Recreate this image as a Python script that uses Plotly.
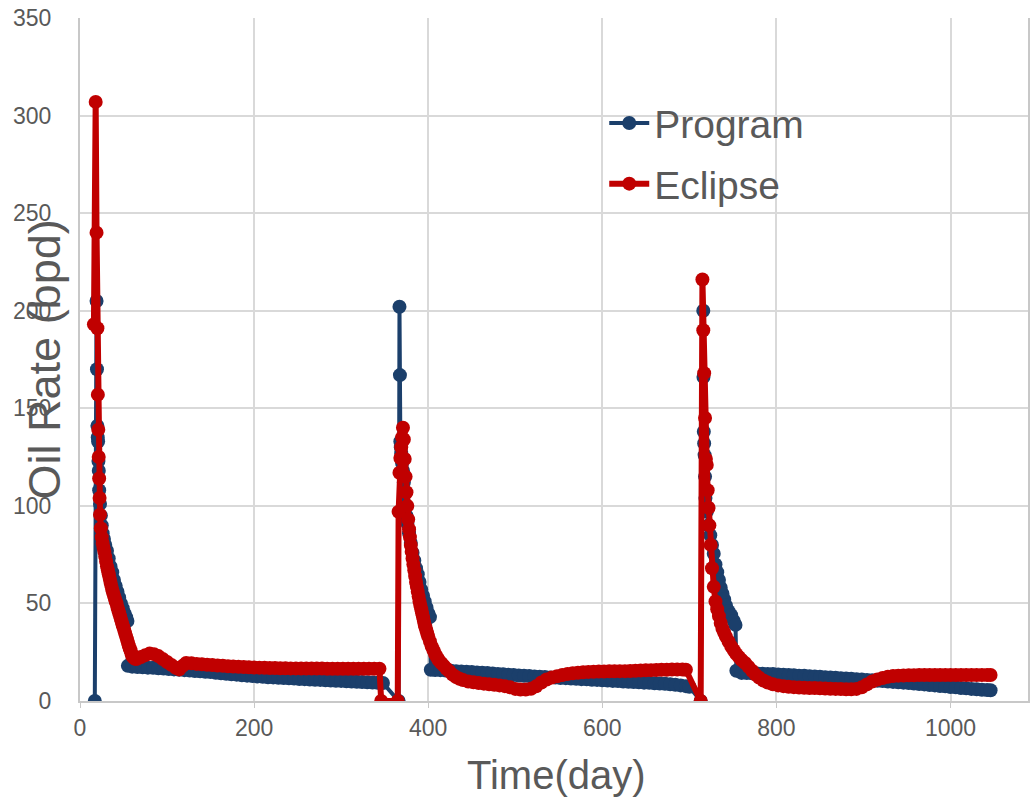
import plotly.graph_objects as go

# ---------------- data ----------------
program_day = [
    17, 19, 19.5, 20, 20.4, 20.8, 21.2, 21.6, 22, 23, 24, 25, 26, 27.5, 29, 31, 33, 35, 37, 39,
    41, 43, 45, 47, 49, 51, 53, 54.5, 55,
    60, 66, 72, 78, 84, 90, 96, 102, 108, 114, 120, 126, 132, 138, 144, 150, 156, 162, 168, 174,
    180, 186, 192, 198, 204, 210, 216, 222, 228, 234, 240, 246, 252, 258, 264, 270, 276, 282, 288,
    294, 300, 306, 312, 318, 324, 330, 336, 342, 348,
    366, 367, 367.5, 368, 368.5, 369, 370, 371, 372, 373, 374, 375, 376, 378, 380, 382, 384, 386,
    388, 390, 392, 394, 396, 398, 400, 402, 403,
    408, 414, 420, 426, 432, 438, 444, 450, 456, 462, 468, 474, 480, 486, 492, 498, 504, 510, 516,
    522, 528, 534, 540, 546, 552, 558, 564, 570, 576, 582, 588, 594, 600, 606, 612, 618, 624, 630,
    636, 642, 648, 654, 660, 666, 672, 678, 684, 690, 696, 700,
    713, 716, 716.2, 716.6, 717, 717.5, 718, 718.5, 720, 722, 724, 726, 728, 730, 732, 734, 736,
    738, 740, 742, 745, 748, 751, 753, 754,
    760, 766, 772, 778, 784, 790, 796, 802, 808, 814, 820, 826, 832, 838, 844, 850, 856, 862, 868,
    874, 880, 886, 892, 898, 904, 910, 916, 922, 928, 934, 940, 946, 952, 958, 964, 970, 976, 982,
    988, 994, 1000, 1006, 1012, 1018, 1024, 1030, 1036, 1042, 1046,
]
program_rate = [
    0, 205, 170, 141, 135, 133, 123, 118, 108, 101, 95, 90, 86, 83, 80, 77, 73, 69, 66, 62,
    59, 56, 53, 50, 47.5, 45, 43, 41, 18,
    17.6, 17.4, 17.3, 17.1, 17.0, 16.8, 16.6, 16.4, 16.2, 16.0, 15.8, 15.6, 15.4, 15.2, 15.0, 14.8,
    14.5, 14.2, 14.0, 13.7, 13.5, 13.2, 13.0, 12.8, 12.6, 12.4, 12.2, 12.1, 11.9, 11.8, 11.6, 11.5,
    11.3, 11.2, 11.0, 10.9, 10.8, 10.6, 10.5, 10.4, 10.3, 10.1, 10.0, 9.9, 9.7, 9.6, 9.5, 9.3, 9.2,
    0, 202, 167, 133, 130, 127, 122, 118, 112, 106, 100, 95, 91, 86, 81, 76, 72, 68,
    65, 61, 57, 54, 51, 48, 45, 43, 16,
    15.9, 15.8, 15.6, 15.5, 15.3, 15.1, 15.0, 14.8, 14.6, 14.5, 14.3, 14.1, 13.9, 13.7, 13.5, 13.3,
    13.1, 12.9, 12.8, 12.6, 12.4, 12.3, 12.1, 12.0, 11.8, 11.7, 11.5, 11.4, 11.2, 11.1, 10.9, 10.8,
    10.6, 10.5, 10.3, 10.2, 10.0, 9.9, 9.7, 9.6, 9.4, 9.3, 9.1, 9.0, 8.8, 8.6, 8.3, 8.0, 7.6, 7.3,
    0, 200, 166, 138, 132, 126, 115, 104, 97, 90, 85, 80, 75.5, 70, 66, 62, 58,
    55, 52, 49, 46, 44, 41, 39, 15.5,
    14.4, 14.3, 14.2, 14.1, 14.0, 13.9, 13.8, 13.6, 13.5, 13.3, 13.2, 13.0, 12.9, 12.7, 12.5, 12.4,
    12.2, 12.0, 11.9, 11.7, 11.5, 11.4, 11.2, 11.0, 10.8, 10.6, 10.4, 10.2, 10.0, 9.8, 9.6, 9.4,
    9.2, 9.0, 8.7, 8.5, 8.2, 8.0, 7.7, 7.5, 7.2, 7.0, 6.7, 6.5, 6.2, 6.0, 5.8, 5.6, 5.5,
]

eclipse_day = [
    16, 18, 19, 20, 20.5, 21, 21.5, 22, 22.5, 23, 24, 25, 26, 27, 28, 29, 30, 31, 32, 33, 34, 35,
    36, 37, 38, 39, 40, 41, 42, 43, 44, 45, 46, 47, 48, 49, 50, 51, 52, 53, 54, 55, 56, 57, 58, 59,
    60, 62, 64, 66, 70, 75, 80, 85, 90, 95, 100, 105, 110, 114, 118, 122, 128, 134, 140, 146, 152,
    158, 164, 170, 176, 182, 188, 194, 200, 206, 212, 218, 224, 230, 236, 242, 248, 254, 260, 266,
    272, 278, 284, 290, 296, 302, 308, 314, 320, 326, 332, 338, 344,
    346, 365,
    366, 367, 368, 369, 370, 371, 372, 373, 374, 375, 376, 377, 378, 379, 380, 381, 382, 383, 384,
    385, 386, 387, 388, 389, 390, 391, 392, 393, 394, 395, 396, 397, 398, 399, 400, 402, 404, 406,
    408, 410, 412, 415, 418, 421, 424, 428, 432, 436, 440, 446, 452, 458, 464, 470, 476, 482, 488,
    494, 500, 506, 512, 518, 524, 530, 536, 542, 548, 554, 560, 566, 572, 578, 584, 590, 596, 602,
    608, 614, 620, 626, 632, 638, 644, 650, 656, 662, 668, 674, 680, 686, 692, 696,
    713,
    715, 716, 717, 718, 719, 720, 721, 722, 723, 724.5, 726, 728, 730, 732, 734, 736, 738, 740, 742,
    745, 748, 751, 754, 757, 760, 764, 768, 772, 776, 780, 785, 790, 796, 802, 808, 814, 820, 826,
    832, 838, 844, 850, 856, 862, 868, 874, 880, 886, 892, 898, 904, 910, 916, 922, 928, 934, 940,
    946, 952, 958, 964, 970, 976, 982, 988, 994, 1000, 1006, 1012, 1018, 1024, 1030, 1036, 1042,
    1046,
]
eclipse_rate = [
    193, 307, 240, 191, 157, 139, 125, 114, 104, 95.5, 88.5, 84, 81, 78.5, 76.5, 74, 71.5, 69, 67,
    65, 63, 61, 59, 57, 55.5, 54, 52.5, 51, 50, 48, 46.5, 45, 43.5, 42, 40.5, 39, 37.5, 36, 34.5,
    33, 31.5, 30, 28.5, 27, 26, 24.5,
    23, 22, 21.5, 21.8, 22.5, 23.5, 24.3, 24, 23, 21.5, 20, 18.5, 17, 16.2, 18, 19.5, 19.3, 19.0,
    18.8, 18.6, 18.4, 18.2, 18.0, 17.8, 17.7, 17.5, 17.4, 17.3, 17.2, 17.1, 17.0, 16.9, 16.9, 16.8,
    16.8, 16.7, 16.7, 16.6, 16.6, 16.6, 16.6, 16.6, 16.5, 16.5, 16.5, 16.5, 16.5, 16.5, 16.5, 16.5,
    16.5, 16.5, 16.5,
    0, 0,
    97, 117, 124.5, 130, 135, 140, 134, 124, 115, 107, 100, 93, 88, 84, 80, 76.5, 73, 70, 67,
    64, 61, 58.5, 56, 53.5, 51, 49, 47, 45, 43, 41, 39, 37.5, 36, 34.5, 33, 30.5, 28, 26,
    24, 22.5, 21, 19.5, 18, 16.5, 15.3, 13.5, 12.3, 11.4, 10.7, 10.0, 9.6, 9.2, 8.9, 8.6, 8.3, 8.0,
    7.6, 7.0, 6.2, 5.9, 5.9, 6.3, 7.5, 9.5, 11.0, 12.0, 12.7, 13.3, 13.8, 14.2, 14.5, 14.7, 14.9,
    15.0, 15.1, 15.1, 15.2, 15.2, 15.3, 15.3, 15.4, 15.5, 15.6, 15.7, 15.8, 15.9, 16.0, 16.0, 16.1,
    16.1, 16.1, 16.0,
    0,
    216, 190, 168, 145, 124, 121, 108, 99, 90, 80, 68, 58.5, 51, 47, 43.5, 40, 37, 35, 33,
    30.5, 28, 26, 24, 22.5, 21, 19.5, 17.5, 15.5, 13.5, 12, 10.5, 9.5, 8.6, 8.0, 7.6, 7.3, 7.1,
    6.9, 6.8, 6.7, 6.6, 6.5, 6.4, 6.3, 6.2, 6.1, 6.0, 6.0, 6.2, 7.0, 8.5, 10.0, 11.0, 11.8, 12.4,
    12.8, 13.0, 13.1, 13.2, 13.2, 13.3, 13.3, 13.3, 13.3, 13.3, 13.3, 13.3, 13.3, 13.3, 13.3, 13.3,
    13.3, 13.3, 13.3, 13.3,
]

x_ticks = [0, 200, 400, 600, 800, 1000]
y_ticks = [0, 50, 100, 150, 200, 250, 300, 350]

# ---------------- figure ----------------
BLUE = "#1B3F6B"
RED = "#C00000"
GREY_TXT = "#595959"
FONT = "Liberation Sans, Arial, sans-serif"

fig = go.Figure()
fig.add_trace(go.Scatter(
    x=program_day, y=program_rate, name="Program", mode="lines+markers",
    line=dict(color=BLUE, width=4), marker=dict(color=BLUE, size=14),
    legendgroup="p",
))
fig.add_trace(go.Scatter(
    x=eclipse_day, y=eclipse_rate, name="Eclipse", mode="lines+markers",
    line=dict(color=RED, width=6), marker=dict(color=RED, size=14),
    legendgroup="e",
))

fig.update_layout(
    width=1031, height=799,
    margin=dict(l=80, r=1, t=18, b=98),
    paper_bgcolor="white", plot_bgcolor="white",
    font=dict(family=FONT, color=GREY_TXT),
    showlegend=True,
    legend=dict(
        x=0.553, y=0.893, xanchor="left", yanchor="top",
        bgcolor="rgba(0,0,0,0)", font=dict(size=39, color=GREY_TXT, family=FONT),
        tracegroupgap=7, traceorder="grouped", itemwidth=40,
    ),
    xaxis=dict(
        range=[0, 1089], tickvals=x_ticks, ticktext=[str(v) for v in x_ticks],
        showgrid=True, gridcolor="#D9D9D9", gridwidth=2,
        showline=True, linecolor="#C8C8C8", linewidth=2, mirror=False,
        ticks="outside", ticklen=5, tickcolor="#C8C8C8",
        tickfont=dict(size=23, color=GREY_TXT), zeroline=False,
    ),
    yaxis=dict(
        range=[0, 350], tickvals=y_ticks, ticktext=[str(v) for v in y_ticks],
        showgrid=True, gridcolor="#D9D9D9", gridwidth=2,
        showline=True, linecolor="#C8C8C8", linewidth=2, mirror=True,
        ticks="", ticklabelstandoff=22,
        tickfont=dict(size=23, color=GREY_TXT), zeroline=False,
    ),
    annotations=[
        dict(text="Oil Rate (bpd)", xref="paper", yref="paper", x=-0.037, y=0.5,
             xanchor="center", yanchor="middle", textangle=-90, showarrow=False,
             font=dict(size=45, color=GREY_TXT, family=FONT)),
        dict(text="Time(day)", xref="paper", yref="paper", x=0.503, y=-0.108,
             xanchor="center", yanchor="middle", showarrow=False,
             font=dict(size=40, color=GREY_TXT, family=FONT)),
    ],
)

fig.write_html("out.html")
